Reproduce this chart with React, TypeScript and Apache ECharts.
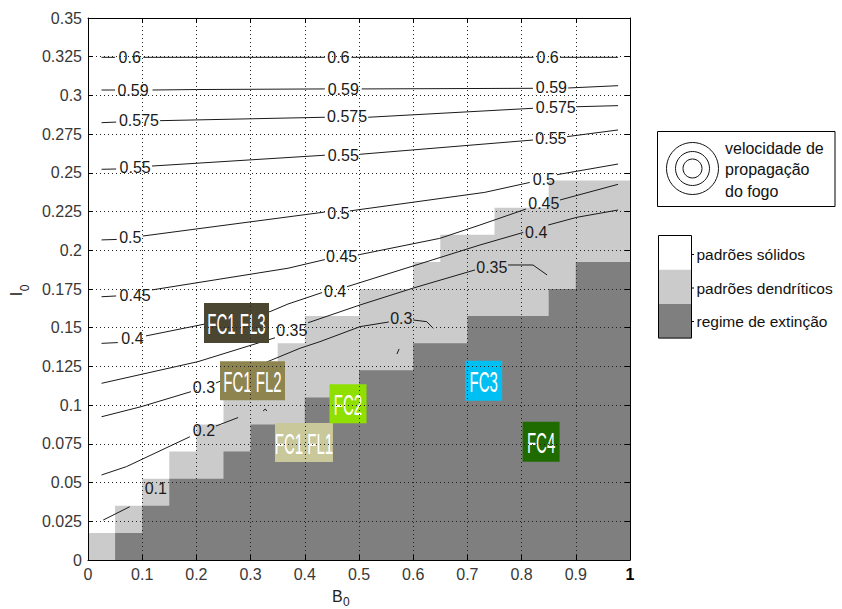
import React, { useEffect, useRef } from "react";
import * as echarts from "echarts";

// ---------- data ----------
const cellWidth = 0.05;
const cellHeight = 0.0175;
// number of cells (from the bottom) in each 0.05-wide column
const extinctionRows = [0, 1, 2, 3, 3, 4, 5, 5, 6, 6, 7, 7, 8, 8, 9, 9, 9, 10, 11, 11];
const dendriticTopRows = [1, 2, 3, 4, 5, 6, 7, 8, 9, 9, 10, 10, 11, 12, 12, 13, 13, 14, 14, 14];

type Pt = [number, number];
const contour060: Pt[][] = [
  [[0.025, 0.3246], [0.05, 0.3246]],
  [[0.102, 0.3246], [0.437, 0.3246]],
  [[0.486, 0.3246], [0.822, 0.3246]],
  [[0.871, 0.3246], [0.978, 0.3246]],
];
const contour059: Pt[][] = [
  [[0.025, 0.3035], [0.05, 0.3035]],
  [[0.119, 0.3035], [0.2, 0.3038], [0.437, 0.3042]],
  [[0.505, 0.3042], [0.821, 0.3046]],
  [[0.886, 0.3048], [0.978, 0.3063]],
];
const contour0575: Pt[][] = [
  [[0.025, 0.2824], [0.052, 0.2828]],
  [[0.133, 0.2837], [0.437, 0.2859]],
  [[0.517, 0.2859], [0.821, 0.2917]],
  [[0.902, 0.2927], [0.978, 0.2934]],
];
const contour055: Pt[][] = [
  [[0.025, 0.2523], [0.052, 0.2525]],
  [[0.118, 0.2544], [0.437, 0.2614]],
  [[0.502, 0.262], [0.821, 0.2712]],
  [[0.884, 0.2734], [0.978, 0.2777]],
];
const contour050: Pt[][] = [
  [[0.025, 0.2067], [0.053, 0.207]],
  [[0.101, 0.2092], [0.437, 0.2247]],
  [[0.483, 0.2254], [0.732, 0.2374], [0.815, 0.2438]],
  [[0.865, 0.2488], [0.978, 0.2557]],
];
const contour045: Pt[][] = [
  [[0.025, 0.17], [0.052, 0.1705]],
  [[0.118, 0.1744], [0.369, 0.1884], [0.437, 0.194]],
  [[0.498, 0.197], [0.649, 0.2077], [0.723, 0.2163], [0.808, 0.2266]],
  [[0.871, 0.2325], [0.978, 0.2426]],
];
const contour040: Pt[][] = [
  [[0.025, 0.1399], [0.055, 0.1404]],
  [[0.107, 0.1447], [0.216, 0.1524], [0.336, 0.1604], [0.369, 0.1653], [0.432, 0.1727]],
  [[0.478, 0.1765], [0.723, 0.2034], [0.803, 0.2115]],
  [[0.849, 0.2163], [0.902, 0.2213], [0.978, 0.226]],
];
const contour035: Pt[][] = [
  [[0.025, 0.1141], [0.203, 0.1281], [0.345, 0.1435]],
  [[0.406, 0.1532], [0.502, 0.1647], [0.6, 0.1756], [0.714, 0.1873]],
  [[0.775, 0.1905], [0.821, 0.1905], [0.847, 0.1841]],
];
const contour030: Pt[][] = [
  [[0.025, 0.0925], [0.098, 0.099], [0.19, 0.1087]],
  [[0.236, 0.1143], [0.339, 0.1292], [0.391, 0.1367], [0.428, 0.141], [0.502, 0.1507], [0.555, 0.1537]],
  [[0.6, 0.155], [0.625, 0.1539], [0.637, 0.1496]],
  [[0.57, 0.133], [0.574, 0.1363]],
  [[0.323, 0.0962], [0.327, 0.0975], [0.33, 0.0962]],
];
const contour020: Pt[][] = [
  [[0.025, 0.0549], [0.071, 0.0603], [0.188, 0.0796]],
  [[0.236, 0.0865], [0.277, 0.092]],
];
const contour010: Pt[][] = [[[0.028, 0.0258], [0.077, 0.0344]]];

const contourLevels: Pt[][][] = [
  contour060, contour059, contour0575, contour055, contour050, contour045,
  contour040, contour035, contour030, contour020, contour010,
];

// [x, y, label]
const contourLabels: [number, number, string][] = [
  [0.077, 0.3246, "0.6"], [0.462, 0.3246, "0.6"], [0.848, 0.3246, "0.6"],
  [0.083, 0.3035, "0.59"], [0.471, 0.304, "0.59"], [0.855, 0.3048, "0.59"],
  [0.094, 0.2835, "0.575"], [0.478, 0.2863, "0.575"], [0.863, 0.2922, "0.575"],
  [0.087, 0.2535, "0.55"], [0.471, 0.2615, "0.55"], [0.854, 0.2723, "0.55"],
  [0.078, 0.2081, "0.5"], [0.462, 0.2239, "0.5"], [0.841, 0.2454, "0.5"],
  [0.087, 0.1711, "0.45"], [0.468, 0.1959, "0.45"], [0.841, 0.2299, "0.45"],
  [0.082, 0.1432, "0.4"], [0.456, 0.1733, "0.4"], [0.827, 0.2115, "0.4"],
  [0.376, 0.1485, "0.35"], [0.745, 0.189, "0.35"],
  [0.214, 0.1115, "0.3"], [0.578, 0.1561, "0.3"],
  [0.214, 0.0834, "0.2"],
  [0.125, 0.0463, "0.1"],
];

// fuel classes: [x, y, name]
const fuelClasses: [number, number, string][] = [
  [0.274, 0.153, "FC1 FL3"],
  [0.3035, 0.1157, "FC1 FL2"],
  [0.3985, 0.0759, "FC1 FL1"],
  [0.4797, 0.1009, "FC2"],
  [0.73, 0.1157, "FC3"],
  [0.836, 0.0764, "FC4"],
];
const fuelColors = ["#4b4631", "#8d8450", "#c9c89a", "#8fe000", "#00bff2", "#206b00"];
const fuelBoxWidths = [65, 65, 58, 37, 37, 37];
const fuelBoxHeights = [40, 39, 39, 39, 40, 40];

const legendCategories = ["padrões sólidos", "padrões dendríticos", "regime de extinção"];
const legendLines = ["velocidade de", "propagação", "do fogo"];

// ---------- styles ----------
const FONT = "'Liberation Sans', Arial, Helvetica, sans-serif";
const WHITE = "#ffffff";
const LIGHT = "#cbcbcb";
const DARK = "#7f7f7f";

function buildOption() {
  const fmt = (v: number) => {
    const r = Math.round(v * 1000) / 1000;
    return r === 1 ? "{b|1}" : String(r);
  };
  const axisBase = {
    type: "value" as const,
    z: 10,
    axisLine: { show: true, onZero: false, lineStyle: { color: "#000", width: 1 } },
    axisTick: { show: true, inside: true, length: 5, lineStyle: { color: "#000", width: 1 } },
  };
  const labelStyle = {
    color: "#383838",
    fontSize: 16,
    fontFamily: FONT,
    formatter: fmt,
    rich: { b: { fontWeight: "bold", color: "#000", fontSize: 16, fontFamily: FONT } },
  };
  const split = { show: true, lineStyle: { type: [1, 3], color: "#222", width: 1 } };

  const series: any[] = [];

  // regions
  series.push({
    type: "custom",
    coordinateSystem: "cartesian2d",
    xAxisIndex: 0,
    yAxisIndex: 0,
    silent: true,
    z: 1,
    data: [[0, 0]],
    renderItem: (_p: any, api: any) => {
      const stair = (rows: number[]) => {
        const pts: number[][] = [api.coord([0, 0])];
        rows.forEach((r, i) => {
          pts.push(api.coord([i * cellWidth, r * cellHeight]));
          pts.push(api.coord([(i + 1) * cellWidth, r * cellHeight]));
        });
        pts.push(api.coord([rows.length * cellWidth, 0]));
        return pts;
      };
      return {
        type: "group",
        children: [
          { type: "polygon", shape: { points: stair(dendriticTopRows) }, style: { fill: LIGHT, stroke: null } },
          { type: "polygon", shape: { points: stair(extinctionRows) }, style: { fill: DARK, stroke: null } },
        ],
      };
    },
  });

  // contour lines
  contourLevels.forEach((segs) => {
    segs.forEach((seg) => {
      series.push({
        type: "line",
        data: seg,
        symbol: "none",
        showSymbol: false,
        silent: true,
        z: 3,
        lineStyle: { color: "#1a1a1a", width: 1 },
      });
    });
  });

  // contour labels
  series.push({
    type: "custom",
    coordinateSystem: "cartesian2d",
    silent: true,
    z: 4,
    data: contourLabels.map((d) => [d[0], d[1]]),
    renderItem: (p: any, api: any) => {
      const c = api.coord([api.value(0), api.value(1)]);
      return {
        type: "text",
        x: c[0],
        y: c[1],
        style: {
          text: contourLabels[p.dataIndex][2],
          fill: "#1a1a1a",
          fontSize: 16,
          fontFamily: FONT,
          align: "center",
          verticalAlign: "middle",
        },
      };
    },
  });

  // fuel class boxes
  series.push({
    type: "custom",
    coordinateSystem: "cartesian2d",
    silent: true,
    z: 5,
    data: fuelClasses.map((d) => [d[0], d[1]]),
    renderItem: (p: any, api: any) => {
      const i = p.dataIndex;
      const c = api.coord([api.value(0), api.value(1)]);
      const w = fuelBoxWidths[i];
      const h = fuelBoxHeights[i];
      return {
        type: "group",
        children: [
          {
            type: "rect",
            shape: { x: c[0] - w / 2, y: c[1] - h / 2, width: w, height: h },
            style: { fill: fuelColors[i] },
          },
          {
            type: "text",
            x: c[0],
            y: c[1] + 1,
            scaleX: 0.5,
            scaleY: 1,
            style: {
              text: fuelClasses[i][2],
              fill: "#ffffff",
              fontSize: 30,
              fontFamily: FONT,
              align: "center",
              verticalAlign: "middle",
            },
          },
        ],
      };
    },
  });

  // legend graphics (pixel layout)
  const legendX = 658;
  const graphic: any[] = [
    {
      type: "rect",
      shape: { x: 657.5, y: 131.5, width: 177.5, height: 75 },
      style: { fill: "#fff", stroke: "#000", lineWidth: 1 },
    },
    { type: "circle", shape: { cx: 692.5, cy: 168.5, r: 26 }, style: { fill: "none", stroke: "#111", lineWidth: 1 } },
    { type: "circle", shape: { cx: 692.5, cy: 168.5, r: 17 }, style: { fill: "none", stroke: "#111", lineWidth: 1 } },
    { type: "circle", shape: { cx: 692.5, cy: 168.5, r: 9.5 }, style: { fill: "none", stroke: "#111", lineWidth: 1 } },
    ...legendLines.map((t, i) => ({
      type: "text",
      x: 725,
      y: 148 + i * 21.7,
      style: { text: t, fill: "#111", fontSize: 16, fontFamily: FONT, align: "left", verticalAlign: "middle" },
    })),
    ...[WHITE, LIGHT, DARK].map((col, i) => ({
      type: "rect",
      shape: { x: legendX, y: 235.5 + i * 34.2, width: 33.5, height: 34.2 },
      style: { fill: col, stroke: null },
    })),
    {
      type: "rect",
      shape: { x: 658.5, y: 235.5, width: 33, height: 102.6 },
      style: { fill: "none", stroke: "#000", lineWidth: 1 },
    },
    ...legendCategories.map((t, i) => ({
      type: "text",
      x: 696.5,
      y: 254.5 + i * 33.5,
      style: { text: t, fill: "#111", fontSize: 15.5, fontFamily: FONT, align: "left", verticalAlign: "middle" },
    })),
    ...legendCategories.map((_t, i) => ({
      type: "line",
      shape: { x1: 691.5, y1: 254.5 + i * 33.5, x2: 694, y2: 254.5 + i * 33.5 },
      style: { stroke: "#000", lineWidth: 1 },
    })),
    // axis titles
    { type: "text", x: 332, y: 596, style: { text: "B", fill: "#222", fontSize: 16, fontFamily: FONT, align: "left", verticalAlign: "middle" } },
    { type: "text", x: 343, y: 602, style: { text: "0", fill: "#222", fontSize: 12, fontFamily: FONT, align: "left", verticalAlign: "middle" } },
    { type: "text", x: 16, y: 294, rotation: Math.PI / 2, style: { text: "I", fill: "#222", fontSize: 16, fontFamily: FONT, align: "center", verticalAlign: "middle" } },
    { type: "text", x: 25, y: 288, rotation: Math.PI / 2, style: { text: "0", fill: "#222", fontSize: 12, fontFamily: FONT, align: "center", verticalAlign: "middle" } },
  ];

  return {
    animation: false,
    backgroundColor: "#ffffff",
    grid: { left: 88, top: 18, width: 542, height: 542, containLabel: false },
    xAxis: [
      { ...axisBase, min: 0, max: 1, interval: 0.1, position: "bottom", axisLabel: { ...labelStyle, margin: 6 }, splitLine: split },
      { ...axisBase, min: 0, max: 1, interval: 0.1, position: "top", axisLabel: { show: false }, splitLine: { show: false } },
    ],
    yAxis: [
      { ...axisBase, min: 0, max: 0.35, interval: 0.025, position: "left", axisLabel: { ...labelStyle, margin: 6 }, splitLine: split },
      { ...axisBase, min: 0, max: 0.35, interval: 0.025, position: "right", axisLabel: { show: false }, splitLine: { show: false } },
    ],
    series,
    graphic,
  };
}

export default function App() {
  const ref = useRef<HTMLDivElement>(null);
  useEffect(() => {
    if (!ref.current) return;
    const chart = echarts.init(ref.current, null, { renderer: "svg" });
    chart.setOption(buildOption() as any);
    return () => chart.dispose();
  }, []);
  return (
    <div
      ref={ref}
      style={{ position: "absolute", left: 0, top: 0, width: 842, height: 609, background: "#fff" }}
    />
  );
}
